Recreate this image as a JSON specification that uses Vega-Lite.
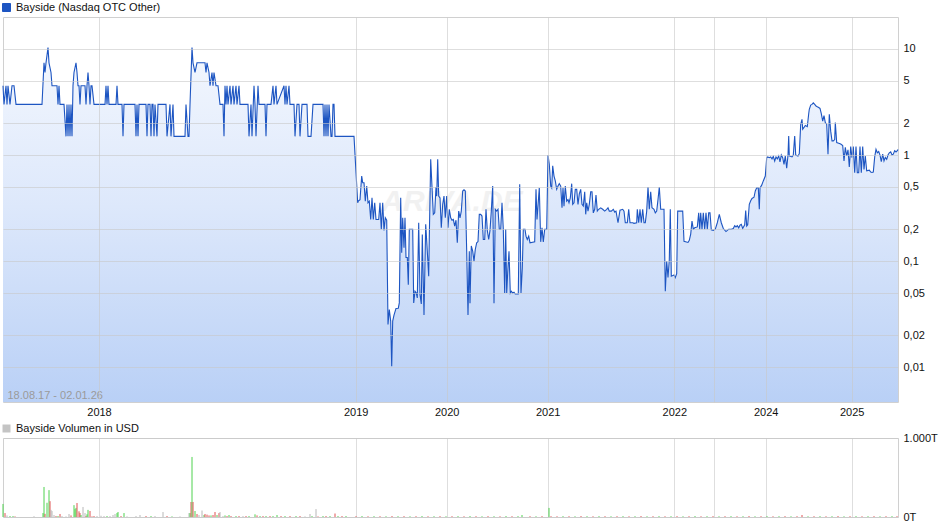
{
"$schema": "https://vega.github.io/schema/vega-lite/v6.json",
"background": "white",
"padding": {"left": 0, "top": 1, "right": 2, "bottom": 0},
"config": {"view": {"stroke": "#d0d0d0"}, "font": "Liberation Sans"},
"spacing": 36,
"bounds": "flush",
"resolve": {"scale": {"color": "independent", "y": "independent", "shape": "independent"}, "legend": {"color": "independent", "shape": "independent"}},
"datasets": {
"price": [
{"n":0,"p":4.5},{"n":1,"p":3},{"n":3,"p":4.5},{"n":4,"p":3},{"n":5,"p":4.5},{"n":7,"p":3},{"n":9,"p":4.5},{"n":11,"p":4.5},{"n":13,"p":3},{"n":39,"p":3},{"n":41,"p":7.4},{"n":42,"p":6},{"n":43,"p":7.4},{"n":45,"p":10.3},{"n":46,"p":7.4},{"n":48,"p":6},{"n":49,"p":4.5},{"n":54,"p":4.5},{"n":55,"p":3},{"n":56,"p":4.5},{"n":57,"p":3},{"n":61,"p":3},{"n":63,"p":1.5},{"n":64,"p":3},{"n":65,"p":1.5},{"n":66,"p":3},{"n":67,"p":1.5},{"n":68,"p":3},{"n":69,"p":1.5},{"n":70,"p":4.5},{"n":71,"p":6},{"n":73,"p":7.4},{"n":74,"p":6},{"n":75,"p":4.5},{"n":76,"p":4.5},{"n":77,"p":3},{"n":78,"p":4.5},{"n":82,"p":4.5},{"n":83,"p":3},{"n":84,"p":4.5},{"n":85,"p":6},{"n":86,"p":4.5},{"n":87,"p":3},{"n":88,"p":4.5},{"n":89,"p":4.5},{"n":91,"p":3},{"n":102,"p":3},{"n":103,"p":4.5},{"n":104,"p":3},{"n":105,"p":4.5},{"n":106,"p":3},{"n":113,"p":3},{"n":114,"p":4.5},{"n":115,"p":3},{"n":119,"p":3},{"n":120,"p":1.5},{"n":121,"p":3},{"n":132,"p":3},{"n":133,"p":1.5},{"n":134,"p":3},{"n":135,"p":1.5},{"n":136,"p":3},{"n":143,"p":3},{"n":144,"p":1.5},{"n":145,"p":3},{"n":147,"p":3},{"n":148,"p":1.5},{"n":149,"p":3},{"n":150,"p":3},{"n":151,"p":1.5},{"n":152,"p":3},{"n":154,"p":1.5},{"n":155,"p":3},{"n":163,"p":3},{"n":164,"p":1.5},{"n":167,"p":3},{"n":168,"p":1.5},{"n":170,"p":3},{"n":171,"p":1.5},{"n":182,"p":1.5},{"n":183,"p":3},{"n":185,"p":1.5},{"n":186,"p":1.5},{"n":187,"p":3},{"n":189,"p":10.3},{"n":190,"p":7.4},{"n":192,"p":6},{"n":194,"p":7.4},{"n":202,"p":7.4},{"n":203,"p":6},{"n":204,"p":7.4},{"n":206,"p":6},{"n":207,"p":4.5},{"n":209,"p":6},{"n":210,"p":4.5},{"n":211,"p":6},{"n":213,"p":4.5},{"n":215,"p":4.5},{"n":217,"p":3},{"n":220,"p":3},{"n":221,"p":1.5},{"n":222,"p":4.5},{"n":223,"p":3},{"n":224,"p":4.5},{"n":225,"p":3},{"n":227,"p":4.5},{"n":228,"p":3},{"n":230,"p":4.5},{"n":231,"p":3},{"n":233,"p":4.5},{"n":234,"p":3},{"n":236,"p":4.5},{"n":237,"p":3},{"n":245,"p":3},{"n":246,"p":1.5},{"n":248,"p":3},{"n":249,"p":1.5},{"n":251,"p":4.5},{"n":252,"p":3},{"n":253,"p":1.5},{"n":255,"p":4.5},{"n":256,"p":3},{"n":262,"p":3},{"n":263,"p":1.5},{"n":264,"p":3},{"n":268,"p":3},{"n":270,"p":4.5},{"n":271,"p":3},{"n":273,"p":4.5},{"n":274,"p":3},{"n":281,"p":4.5},{"n":282,"p":3},{"n":283,"p":4.5},{"n":284,"p":3},{"n":286,"p":4.5},{"n":287,"p":3},{"n":291,"p":3},{"n":292,"p":1.5},{"n":294,"p":3},{"n":296,"p":3},{"n":297,"p":1.5},{"n":299,"p":3},{"n":304,"p":3},{"n":305,"p":1.5},{"n":308,"p":1.5},{"n":310,"p":3},{"n":320,"p":3},{"n":321,"p":1.5},{"n":322,"p":3},{"n":323,"p":1.5},{"n":324,"p":3},{"n":325,"p":1.5},{"n":326,"p":3},{"n":328,"p":1.5},{"n":329,"p":1.5},{"n":330,"p":3},{"n":331,"p":3},{"n":332,"p":1.5},{"n":351,"p":1.5},
{"n":354.7,"p":0.355},{"n":355.3,"p":0.368},{"n":357,"p":0.38},{"n":358.7,"p":0.634},{"n":359.7,"p":0.548},{"n":361,"p":0.548},{"n":362.3,"p":0.368},{"n":363.7,"p":0.51},{"n":365,"p":0.355},{"n":366.3,"p":0.368},{"n":367.7,"p":0.247},{"n":369,"p":0.395},{"n":370.3,"p":0.247},{"n":371.7,"p":0.355},{"n":373,"p":0.247},{"n":375.7,"p":0.247},{"n":377,"p":0.355},{"n":378.3,"p":0.2},{"n":379.7,"p":0.355},{"n":381,"p":0.195},{"n":382.3,"p":0.256},{"n":383.7,"p":0.243},{"n":385,"p":0.0253},{"n":386.3,"p":0.035},{"n":387.7,"p":0.0272},{"n":388.7,"p":0.0102},{"n":389.7,"p":0.0272},{"n":391,"p":0.031},{"n":393,"p":0.0358},{"n":395.3,"p":0.036},{"n":396.3,"p":0.0404},{"n":397.7,"p":0.395},{"n":398.7,"p":0.12},{"n":399.7,"p":0.256},{"n":401,"p":0.134},{"n":402,"p":0.256},{"n":403,"p":0.108},{"n":404.3,"p":0.108},{"n":405.3,"p":0.06},{"n":406.3,"p":0.2},{"n":409.7,"p":0.2},{"n":410.7,"p":0.0404},{"n":412,"p":0.052},{"n":413.3,"p":0.05},{"n":414.3,"p":0.045},{"n":415.7,"p":0.23},{"n":417,"p":0.0486},{"n":418.3,"p":0.0395},{"n":419.3,"p":0.178},{"n":421,"p":0.031},{"n":422.7,"p":0.222},{"n":424,"p":0.139},{"n":425.7,"p":0.072},{"n":426.3,"p":0.166},{"n":427.7,"p":0.91},{"n":429,"p":0.5},{"n":430.3,"p":0.276},{"n":431.7,"p":0.285},{"n":433,"p":0.5},{"n":433.7,"p":0.41},{"n":434.7,"p":0.91},{"n":435.7,"p":0.41},{"n":437,"p":0.395},{"n":438.3,"p":0.206},{"n":439.7,"p":0.343},{"n":441,"p":0.41},{"n":442.3,"p":0.256},{"n":443.7,"p":0.41},{"n":445,"p":0.206},{"n":446.3,"p":0.308},{"n":447.7,"p":0.256},{"n":449,"p":0.243},{"n":450.3,"p":0.247},{"n":451.7,"p":0.214},{"n":453,"p":0.243},{"n":454.3,"p":0.149},{"n":455.7,"p":0.296},{"n":457,"p":0.256},{"n":458.3,"p":0.296},{"n":459.7,"p":0.458},{"n":461,"p":0.47},{"n":462.3,"p":0.458},{"n":463.7,"p":0.124},{"n":465,"p":0.031},{"n":466.3,"p":0.124},{"n":467,"p":0.04},{"n":468.3,"p":0.139},{"n":469.7,"p":0.124},{"n":471,"p":0.1},{"n":472.3,"p":0.129},{"n":473.7,"p":0.149},{"n":475,"p":0.153},{"n":476.3,"p":0.276},{"n":477.7,"p":0.276},{"n":479,"p":0.266},{"n":480.3,"p":0.16},{"n":481.7,"p":0.16},{"n":483,"p":0.308},{"n":484.3,"p":0.195},{"n":485.7,"p":0.16},{"n":487,"p":0.195},{"n":488.3,"p":0.296},{"n":489.7,"p":0.51},{"n":491,"p":0.04},{"n":492.3,"p":0.308},{"n":493.7,"p":0.296},{"n":495,"p":0.308},{"n":496.3,"p":0.2},{"n":497.7,"p":0.2},{"n":499,"p":0.355},{"n":500.3,"p":0.2},{"n":501.7,"p":0.05},{"n":502.7,"p":0.2},{"n":503.7,"p":0.05},{"n":504.7,"p":0.078},{"n":506,"p":0.124},{"n":507.3,"p":0.05},{"n":508.3,"p":0.052},{"n":509.7,"p":0.05},{"n":511,"p":0.051},{"n":512.3,"p":0.049},{"n":515.3,"p":0.049},{"n":516.7,"p":0.53},{"n":518,"p":0.05},{"n":519.3,"p":0.086},{"n":520.3,"p":0.2},{"n":522,"p":0.2},{"n":523,"p":0.172},{"n":524.3,"p":0.16},{"n":525.7,"p":0.172},{"n":527,"p":0.149},{"n":531.7,"p":0.152},{"n":533,"p":0.475},{"n":534,"p":0.247},{"n":536.3,"p":0.49},{"n":537.7,"p":0.152},{"n":539,"p":0.206},{"n":540.3,"p":0.152},{"n":541.7,"p":0.2},{"n":543.7,"p":0.2},{"n":545,"p":1.0},{"n":546.3,"p":0.817},{"n":547.7,"p":0.51},{"n":548.7,"p":0.49},{"n":549.7,"p":0.79},{"n":551,"p":0.634},{"n":552.3,"p":0.57},{"n":553.7,"p":0.475},{"n":555,"p":0.51},{"n":556.3,"p":0.537},{"n":557.7,"p":0.51},{"n":559,"p":0.318},{"n":560,"p":0.49},{"n":561,"p":0.33},{"n":562.3,"p":0.51},{"n":563.7,"p":0.368},{"n":565,"p":0.38},{"n":566,"p":0.355},{"n":567.3,"p":0.395},{"n":568.7,"p":0.537},{"n":569.7,"p":0.343},{"n":571,"p":0.355},{"n":572.3,"p":0.475},{"n":573.7,"p":0.475},{"n":575,"p":0.343},{"n":576.3,"p":0.43},{"n":577.7,"p":0.475},{"n":579,"p":0.343},{"n":580.3,"p":0.33},{"n":581.7,"p":0.45},{"n":582.7,"p":0.276},{"n":583.7,"p":0.355},{"n":585,"p":0.296},{"n":586.3,"p":0.343},{"n":587.7,"p":0.45},{"n":589,"p":0.45},{"n":590.3,"p":0.285},{"n":591.7,"p":0.308},{"n":593,"p":0.42},{"n":594.3,"p":0.296},{"n":595.7,"p":0.308},{"n":597.7,"p":0.318},{"n":599.7,"p":0.308},{"n":601.7,"p":0.296},{"n":603.7,"p":0.308},{"n":605,"p":0.318},{"n":606.3,"p":0.296},{"n":608.3,"p":0.296},{"n":610.3,"p":0.308},{"n":611.7,"p":0.29},{"n":613,"p":0.296},{"n":615,"p":0.23},{"n":617,"p":0.302},{"n":619.7,"p":0.308},{"n":621,"p":0.296},{"n":622.3,"p":0.23},{"n":624.3,"p":0.23},{"n":625.7,"p":0.308},{"n":627,"p":0.23},{"n":629.7,"p":0.23},{"n":631,"p":0.227},{"n":633.7,"p":0.23},{"n":634.3,"p":0.308},{"n":635.7,"p":0.23},{"n":637,"p":0.308},{"n":638.3,"p":0.23},{"n":639.7,"p":0.308},{"n":641,"p":0.23},{"n":642.3,"p":0.23},{"n":643.7,"p":0.296},{"n":645,"p":0.5},{"n":646.3,"p":0.308},{"n":647.7,"p":0.45},{"n":649,"p":0.318},{"n":651,"p":0.308},{"n":652.3,"p":0.285},{"n":653.7,"p":0.296},{"n":655,"p":0.38},{"n":656.3,"p":0.5},{"n":657.7,"p":0.308},{"n":661,"p":0.308},{"n":662.3,"p":0.052},{"n":663.7,"p":0.1},{"n":665,"p":0.07},{"n":666.3,"p":0.103},{"n":667.3,"p":0.308},{"n":668.3,"p":0.072},{"n":671,"p":0.074},{"n":672.3,"p":0.07},{"n":673.7,"p":0.076},{"n":674.7,"p":0.296},{"n":677.7,"p":0.296},{"n":679.7,"p":0.296},{"n":681,"p":0.154},{"n":685,"p":0.15},{"n":686.3,"p":0.157},{"n":687.7,"p":0.18},{"n":689,"p":0.238},{"n":690.3,"p":0.2},{"n":691.7,"p":0.206},{"n":694.3,"p":0.21},{"n":695.7,"p":0.285},{"n":696.7,"p":0.2},{"n":697.7,"p":0.285},{"n":699,"p":0.2},{"n":700.3,"p":0.285},{"n":701.7,"p":0.2},{"n":703,"p":0.285},{"n":704.3,"p":0.2},{"n":705.7,"p":0.285},{"n":707,"p":0.285},{"n":708.3,"p":0.197},{"n":710.3,"p":0.195},{"n":712.3,"p":0.2},{"n":714.3,"p":0.23},{"n":716.3,"p":0.276},{"n":718.3,"p":0.23},{"n":720.3,"p":0.203},{"n":723,"p":0.19},{"n":725.7,"p":0.2},{"n":728.3,"p":0.2},{"n":730.3,"p":0.203},{"n":731.7,"p":0.216},{"n":733,"p":0.21},{"n":734.3,"p":0.216},{"n":735.7,"p":0.206},{"n":737,"p":0.218},{"n":738.3,"p":0.222},{"n":739.7,"p":0.203},{"n":741.7,"p":0.22},{"n":742.7,"p":0.3},{"n":743.7,"p":0.214},{"n":744.7,"p":0.22},{"n":746.3,"p":0.343},{"n":747.7,"p":0.37},{"n":749,"p":0.39},{"n":751,"p":0.4},{"n":752.3,"p":0.458},{"n":753.7,"p":0.49},{"n":755.3,"p":0.49},{"n":756.3,"p":0.308},{"n":757,"p":0.49},{"n":758.7,"p":0.52},{"n":760.3,"p":0.57},{"n":762.3,"p":0.634},{"n":763.7,"p":0.943},{"n":764.7,"p":0.96},{"n":766.3,"p":0.943},{"n":767.7,"p":0.96},{"n":769,"p":0.92},{"n":770.3,"p":0.97},{"n":771.7,"p":0.878},{"n":773,"p":0.96},{"n":774.3,"p":0.92},{"n":775.7,"p":0.98},{"n":777,"p":0.86},{"n":778.3,"p":1.0},{"n":779.7,"p":0.943},{"n":781,"p":0.817},{"n":782.3,"p":0.98},{"n":783.7,"p":0.75},{"n":785,"p":1.0},{"n":785.7,"p":1.51},{"n":786.3,"p":0.98},{"n":789,"p":0.96},{"n":790.3,"p":1.0},{"n":791.7,"p":1.51},{"n":792.7,"p":1.0},{"n":795,"p":0.98},{"n":796.3,"p":1.03},{"n":797.7,"p":1.95},{"n":799,"p":2.17},{"n":799.7,"p":1.75},{"n":801,"p":1.82},{"n":802.3,"p":1.9},{"n":804.3,"p":1.85},{"n":805.7,"p":2.45},{"n":806.3,"p":2.7},{"n":807.7,"p":2.96},{"n":809,"p":3.0},{"n":810.3,"p":3.1},{"n":811.7,"p":3.0},{"n":813,"p":2.9},{"n":814.3,"p":2.85},{"n":815.7,"p":2.8},{"n":817,"p":2.75},{"n":818.3,"p":2.45},{"n":819.7,"p":2.09},{"n":821,"p":2.35},{"n":822.3,"p":2.02},{"n":823.7,"p":1.95},{"n":825,"p":1.015},{"n":826.3,"p":2.42},{"n":827.7,"p":1.68},{"n":829,"p":1.36},{"n":830.3,"p":1.36},{"n":831.7,"p":1.4},{"n":832.3,"p":2.02},{"n":833.7,"p":1.31},{"n":835.7,"p":1.29},{"n":837.7,"p":1.27},{"n":839.7,"p":1.23},{"n":841,"p":0.878},{"n":842.3,"p":1.18},{"n":843.7,"p":0.98},{"n":845,"p":1.12},{"n":846.3,"p":0.77},{"n":847.7,"p":1.2},{"n":849,"p":0.943},{"n":850.3,"p":1.2},{"n":851.7,"p":0.68},{"n":853,"p":1.2},{"n":854.3,"p":0.68},{"n":855.7,"p":0.68},{"n":857,"p":1.2},{"n":858.3,"p":0.68},{"n":859.7,"p":1.2},{"n":861,"p":0.73},{"n":862.3,"p":0.98},{"n":863.7,"p":0.71},{"n":866.3,"p":0.72},{"n":867.7,"p":0.69},{"n":869,"p":0.685},{"n":870.3,"p":0.69},{"n":871.7,"p":0.96},{"n":873,"p":1.13},{"n":874.3,"p":1.05},{"n":875.7,"p":1.08},{"n":877,"p":1.0},{"n":878.3,"p":0.865},{"n":879.7,"p":1.02},{"n":881,"p":0.88},{"n":882.3,"p":0.95},{"n":883.7,"p":0.91},{"n":885,"p":1.0},{"n":886.3,"p":1.05},{"n":887.7,"p":1.07},{"n":889,"p":1.0},{"n":890.3,"p":1.02},{"n":891.7,"p":1.1},{"n":893,"p":1.07},{"n":894.3,"p":1.1},{"n":895,"p":1.13}
],
"volume": [
{"n":0,"v":165,"d":"up"},{"n":2,"v":50,"d":"down"},{"n":4,"v":20,"d":"flat"},{"n":7,"v":12,"d":"up"},{"n":10,"v":12,"d":"up"},{"n":12,"v":8,"d":"down"},{"n":31,"v":10,"d":"flat"},{"n":40,"v":50,"d":"up"},{"n":41,"v":380,"d":"up"},{"n":42,"v":40,"d":"down"},{"n":44,"v":180,"d":"up"},{"n":46,"v":340,"d":"up"},{"n":47,"v":200,"d":"down"},{"n":48,"v":90,"d":"flat"},{"n":49,"v":75,"d":"flat"},{"n":51,"v":25,"d":"flat"},{"n":53,"v":12,"d":"down"},{"n":55,"v":12,"d":"up"},{"n":57,"v":38,"d":"down"},{"n":59,"v":12,"d":"flat"},{"n":63,"v":8,"d":"flat"},{"n":66,"v":38,"d":"flat"},{"n":68,"v":20,"d":"down"},{"n":71,"v":150,"d":"up"},{"n":72,"v":100,"d":"up"},{"n":73,"v":115,"d":"up"},{"n":74,"v":177,"d":"down"},{"n":76,"v":72,"d":"down"},{"n":77,"v":50,"d":"down"},{"n":78,"v":25,"d":"up"},{"n":80,"v":127,"d":"flat"},{"n":82,"v":50,"d":"flat"},{"n":83,"v":12,"d":"down"},{"n":84,"v":34,"d":"up"},{"n":85,"v":90,"d":"up"},{"n":87,"v":76,"d":"down"},{"n":89,"v":8,"d":"down"},{"n":91,"v":12,"d":"down"},{"n":94,"v":12,"d":"flat"},{"n":98,"v":16,"d":"flat"},{"n":101,"v":12,"d":"flat"},{"n":104,"v":12,"d":"up"},{"n":107,"v":12,"d":"flat"},{"n":110,"v":25,"d":"flat"},{"n":112,"v":38,"d":"flat"},{"n":114,"v":50,"d":"up"},{"n":115,"v":63,"d":"up"},{"n":118,"v":12,"d":"down"},{"n":121,"v":50,"d":"up"},{"n":124,"v":8,"d":"flat"},{"n":133,"v":12,"d":"flat"},{"n":137,"v":25,"d":"flat"},{"n":143,"v":12,"d":"down"},{"n":148,"v":12,"d":"up"},{"n":152,"v":12,"d":"flat"},{"n":160,"v":63,"d":"flat"},{"n":164,"v":12,"d":"down"},{"n":169,"v":8,"d":"up"},{"n":177,"v":8,"d":"flat"},{"n":186,"v":50,"d":"flat"},{"n":187,"v":50,"d":"up"},{"n":188,"v":190,"d":"down"},{"n":189,"v":760,"d":"up"},{"n":190,"v":190,"d":"down"},{"n":192,"v":76,"d":"up"},{"n":194,"v":38,"d":"down"},{"n":196,"v":25,"d":"flat"},{"n":199,"v":82,"d":"flat"},{"n":201,"v":25,"d":"up"},{"n":202,"v":38,"d":"down"},{"n":204,"v":30,"d":"down"},{"n":206,"v":20,"d":"down"},{"n":208,"v":20,"d":"up"},{"n":210,"v":25,"d":"down"},{"n":212,"v":63,"d":"down"},{"n":214,"v":25,"d":"up"},{"n":216,"v":50,"d":"down"},{"n":217,"v":63,"d":"flat"},{"n":220,"v":12,"d":"flat"},{"n":222,"v":20,"d":"up"},{"n":224,"v":12,"d":"down"},{"n":226,"v":25,"d":"up"},{"n":228,"v":12,"d":"down"},{"n":233,"v":12,"d":"up"},{"n":236,"v":12,"d":"down"},{"n":240,"v":12,"d":"flat"},{"n":243,"v":12,"d":"down"},{"n":246,"v":12,"d":"up"},{"n":252,"v":34,"d":"up"},{"n":254,"v":20,"d":"down"},{"n":257,"v":12,"d":"up"},{"n":260,"v":12,"d":"down"},{"n":263,"v":12,"d":"up"},{"n":267,"v":12,"d":"down"},{"n":270,"v":12,"d":"up"},{"n":274,"v":25,"d":"up"},{"n":278,"v":12,"d":"down"},{"n":282,"v":12,"d":"up"},{"n":287,"v":12,"d":"down"},{"n":293,"v":12,"d":"up"},{"n":297,"v":12,"d":"down"},{"n":302,"v":8,"d":"flat"},{"n":307,"v":38,"d":"flat"},{"n":309,"v":12,"d":"up"},{"n":313,"v":100,"d":"flat"},{"n":315,"v":8,"d":"down"},{"n":320,"v":12,"d":"up"},{"n":323,"v":12,"d":"down"},{"n":327,"v":12,"d":"up"},{"n":332,"v":44,"d":"down"},{"n":335,"v":12,"d":"up"},{"n":339,"v":12,"d":"down"},{"n":343,"v":12,"d":"up"},
{"n":353,"v":10,"d":"down"},{"n":359,"v":12,"d":"up"},{"n":365,"v":9,"d":"down"},{"n":371,"v":11,"d":"up"},{"n":377,"v":10,"d":"down"},{"n":383,"v":9,"d":"up"},{"n":389,"v":12,"d":"down"},{"n":395,"v":10,"d":"up"},{"n":401,"v":11,"d":"down"},{"n":407,"v":9,"d":"up"},{"n":413,"v":10,"d":"down"},{"n":419,"v":12,"d":"up"},{"n":425,"v":9,"d":"down"},{"n":431,"v":10,"d":"up"},{"n":437,"v":11,"d":"down"},{"n":443,"v":9,"d":"up"},{"n":449,"v":10,"d":"down"},{"n":455,"v":11,"d":"up"},{"n":461,"v":9,"d":"down"},{"n":467,"v":12,"d":"up"},{"n":473,"v":10,"d":"down"},{"n":479,"v":9,"d":"up"},{"n":485,"v":11,"d":"down"},{"n":491,"v":10,"d":"up"},{"n":497,"v":9,"d":"down"},{"n":503,"v":12,"d":"up"},{"n":509,"v":10,"d":"down"},{"n":515,"v":11,"d":"up"},{"n":519,"v":25,"d":"up"},{"n":527,"v":10,"d":"down"},{"n":533,"v":9,"d":"up"},{"n":539,"v":11,"d":"down"},{"n":546,"v":115,"d":"up"},{"n":548,"v":10,"d":"down"},{"n":554,"v":9,"d":"down"},{"n":560,"v":11,"d":"up"},{"n":566,"v":10,"d":"down"},{"n":572,"v":9,"d":"up"},{"n":578,"v":12,"d":"down"},{"n":584,"v":10,"d":"up"},{"n":590,"v":9,"d":"down"},{"n":596,"v":11,"d":"up"},{"n":602,"v":10,"d":"down"},{"n":608,"v":9,"d":"up"},{"n":614,"v":10,"d":"down"},{"n":620,"v":11,"d":"up"},{"n":626,"v":9,"d":"down"},{"n":632,"v":10,"d":"up"},{"n":638,"v":12,"d":"down"},{"n":644,"v":9,"d":"up"},{"n":650,"v":10,"d":"down"},{"n":656,"v":11,"d":"up"},{"n":662,"v":9,"d":"down"},{"n":668,"v":10,"d":"up"},{"n":674,"v":11,"d":"down"},{"n":680,"v":9,"d":"up"},{"n":686,"v":10,"d":"down"},{"n":692,"v":12,"d":"up"},{"n":698,"v":9,"d":"down"},{"n":704,"v":10,"d":"up"},{"n":710,"v":11,"d":"down"},{"n":716,"v":9,"d":"up"},{"n":722,"v":10,"d":"down"},{"n":728,"v":11,"d":"up"},{"n":734,"v":9,"d":"down"},{"n":740,"v":10,"d":"up"},{"n":746,"v":12,"d":"down"},{"n":752,"v":9,"d":"up"},{"n":758,"v":10,"d":"down"},{"n":764,"v":11,"d":"up"},{"n":770,"v":9,"d":"down"},{"n":776,"v":10,"d":"up"},{"n":782,"v":11,"d":"down"},{"n":788,"v":9,"d":"up"},{"n":794,"v":10,"d":"down"},{"n":799,"v":25,"d":"down"},{"n":805,"v":9,"d":"up"},{"n":811,"v":10,"d":"down"},{"n":817,"v":11,"d":"up"},{"n":823,"v":9,"d":"down"},{"n":829,"v":10,"d":"up"},{"n":835,"v":12,"d":"down"},{"n":841,"v":9,"d":"up"},{"n":847,"v":10,"d":"down"},{"n":853,"v":11,"d":"up"},{"n":859,"v":9,"d":"down"},{"n":865,"v":10,"d":"up"},{"n":871,"v":11,"d":"down"},{"n":877,"v":9,"d":"up"},{"n":883,"v":10,"d":"down"},{"n":889,"v":11,"d":"up"},{"n":894,"v":10,"d":"down"}
]
},
"vconcat": [
{
"width": 895,
"height": 385,
"layer": [
{
"data": {"name": "price"},
"mark": {"type": "area", "line": false, "fill": {"gradient": "linear", "x1": 0, "y1": 0, "x2": 0, "y2": 1, "stops": [{"offset": 0, "color": "#f3f7fe"}, {"offset": 0.45, "color": "#dde8fb"}, {"offset": 1, "color": "#b9d0f6"}]}},
"encoding": {
"x": {"field": "n", "type": "quantitative", "scale": {"domain": [0, 895], "nice": false, "zero": false},
"axis": {"orient": "bottom", "values": [96, 352.7, 443.7, 544.7, 671.3, 711.3, 762.7, 848.7], "labelExpr": "datum.value < 200 ? '2018' : datum.value < 400 ? '2019' : datum.value < 500 ? '2020' : datum.value < 600 ? '2021' : datum.value < 700 ? '2022' : datum.value < 740 ? '' : datum.value < 800 ? '2024' : '2025'", "ticks": false, "domain": false, "grid": true, "gridColor": "#c8c8c8", "gridOpacity": 0.6, "zindex": 1, "labelPadding": 4, "labelFontSize": 11, "labelColor": "#111", "labelFont": "Liberation Sans", "labelFlush": false, "labelOverlap": false, "title": null}},
"y": {"field": "p", "type": "quantitative", "scale": {"type": "log", "domain": [0.0047, 20], "nice": false},
"axis": {"orient": "right", "values": [0.01, 0.02, 0.05, 0.1, 0.2, 0.5, 1, 2, 5, 10], "labelExpr": "replace(toString(datum.value), '.', ',')", "ticks": false, "domain": false, "grid": true, "gridColor": "#c8c8c8", "gridOpacity": 0.6, "zindex": 1, "labelPadding": 5, "labelFontSize": 11, "labelColor": "#111", "labelFont": "Liberation Sans", "labelFlush": false, "labelOverlap": false, "title": null}},
"y2": {"datum": 0.0047}
}
},
{
"data": {"values": [{"label": "ARIVA.DE"}]},
"mark": {"type": "text", "fontSize": 30, "fontStyle": "italic", "fontWeight": "bold", "font": "Liberation Sans", "color": "#e6e6e6", "opacity": 0.55, "align": "center", "baseline": "middle"},
"encoding": {"x": {"datum": 449, "type": "quantitative"}, "y": {"datum": 0.36, "type": "quantitative"}, "text": {"field": "label"}}
},
{
"data": {"name": "price"},
"mark": {"type": "line", "strokeWidth": 1.1, "interpolate": "linear"},
"encoding": {
"x": {"field": "n", "type": "quantitative"},
"y": {"field": "p", "type": "quantitative"},
"color": {"datum": "Bayside (Nasdaq OTC Other)", "type": "nominal", "scale": {"range": ["#1d55c2"]},
"legend": {"orient": "none", "legendX": -2, "legendY": -15, "title": null, "symbolType": "square", "symbolSize": 64, "labelFontSize": 11, "labelFont": "Liberation Sans", "labelColor": "#111", "labelOffset": 4, "padding": 0, "encode": {"symbols": {"update": {"fill": {"value": "#1d55c2"}, "stroke": {"value": "#111"}, "strokeWidth": {"value": 1}, "opacity": {"value": 1}}}}}}
}
},
{
"data": {"values": [{"label": "18.08.17 - 02.01.26"}]},
"mark": {"type": "text", "fontSize": 11, "font": "Liberation Sans", "color": "#9a9a9a", "align": "left", "baseline": "middle"},
"encoding": {"x": {"datum": 4.5, "type": "quantitative"}, "y": {"datum": 0.0054, "type": "quantitative"}, "text": {"field": "label"}}
}
]
},
{
"width": 895,
"height": 79,
"layer": [
{
"data": {"name": "volume"},
"mark": {"type": "rule", "strokeWidth": 1},
"encoding": {
"x": {"field": "n", "type": "quantitative", "scale": {"domain": [0, 895], "nice": false, "zero": false},
"axis": {"values": [96, 352.7, 443.7, 544.7, 671.3, 711.3, 762.7, 848.7], "labels": false, "ticks": false, "domain": false, "grid": true, "gridColor": "#c8c8c8", "gridOpacity": 0.6, "title": null}},
"y": {"field": "v", "type": "quantitative", "scale": {"domain": [0, 1000], "nice": false},
"axis": {"orient": "right", "values": [0, 500, 1000], "labelExpr": "datum.value == 1000 ? '1.000T' : datum.value + 'T'", "ticks": false, "domain": false, "grid": true, "gridColor": "#c8c8c8", "gridOpacity": 0.6, "labelPadding": 5, "labelFontSize": 11, "labelColor": "#111", "labelFont": "Liberation Sans", "labelFlush": false, "labelOverlap": false, "title": null}},
"y2": {"datum": 0},
"color": {"field": "d", "type": "nominal", "scale": {"domain": ["up", "down", "flat"], "range": ["#4fd24f", "#e05252", "#b8b8b8"]}, "legend": null}
}
},
{
"data": {"values": [{"k": "Bayside Volumen in USD"}]},
"mark": {"type": "point", "opacity": 0, "filled": true, "color": "#c4c4c4"},
"encoding": {
"x": {"datum": 447, "type": "quantitative"},
"y": {"datum": 500, "type": "quantitative"},
"shape": {"field": "k", "type": "nominal", "scale": {"range": ["square"]},
"legend": {"orient": "none", "legendX": -2, "legendY": -15, "title": null, "symbolSize": 64, "symbolFillColor": "#c4c4c4", "symbolStrokeColor": "#111", "symbolStrokeWidth": 1, "symbolOpacity": 1, "labelFontSize": 11, "labelFont": "Liberation Sans", "labelColor": "#111", "labelOffset": 4, "padding": 0, "encode": {"symbols": {"update": {"fill": {"value": "#c4c4c4"}, "stroke": {"value": "#111"}, "strokeWidth": {"value": 1}, "opacity": {"value": 1}}}}}}
}
}
]
}
]
}
